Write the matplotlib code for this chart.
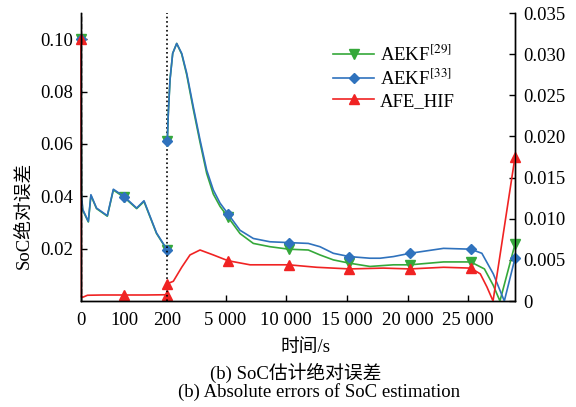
import numpy as np
import matplotlib
matplotlib.use("Agg")
import matplotlib.pyplot as plt

plt.rcParams['font.family'] = ['Liberation Serif', 'Noto Sans CJK SC']
plt.rcParams['mathtext.fontset'] = 'stix'
plt.rcParams['font.size'] = 13.5

# segment 1: 0-200 s, left axis
t1_blue = [0, 1, 4, 17, 23, 36, 61, 75, 100, 129, 146, 175, 200]
blue1 = [0.100, 0.041, 0.035, 0.0304, 0.0406, 0.0355, 0.0326, 0.0427, 0.0399, 0.0355, 0.0383, 0.026, 0.0195]
t1_green = [0, 1, 4, 17, 23, 36, 61, 75, 100, 129, 146, 175, 200]
green1 = [0.100, 0.0405, 0.0347, 0.0302, 0.0403, 0.0353, 0.0324, 0.0424, 0.0396, 0.0353, 0.0380, 0.0258, 0.0193]
t1_red = [0, 1, 5, 15, 50, 100, 150, 200]
red1 = [0.100, 0.0015, 0.0015, 0.0022, 0.0023, 0.0023, 0.0023, 0.0024]

# segment 2: 200 s to end, right axis
t2_blue = [200, 282, 423, 645, 975, 1387, 1799, 2343, 2895, 3447, 3990, 4545, 5200, 6190, 7290,
           8660, 10200, 11820, 12780, 13880, 15200, 16900, 17730, 18830, 20200, 22960, 25200,
           26120, 27060, 27970, 28850]
blue2 = [0.0194, 0.0228, 0.0269, 0.0301, 0.0313, 0.0301, 0.0277, 0.0236, 0.0196, 0.0159, 0.0135,
         0.0119, 0.0106, 0.0086, 0.0076, 0.0072, 0.0071, 0.0070, 0.0066, 0.0058, 0.0054, 0.0052,
         0.0052, 0.0054, 0.0058, 0.0064, 0.0063, 0.0058, 0.0033, 0.0, 0.0052]
t2_green = [200, 282, 423, 645, 975, 1387, 1799, 2343, 2895, 3447, 3990, 4545, 5200, 6190, 7290,
            8660, 10200, 11820, 12780, 13880, 15200, 16900, 18830, 20200, 22960, 25200, 26330,
            27060, 27610, 28850]
green2 = [0.0194, 0.0228, 0.0269, 0.0301, 0.0313, 0.0300, 0.0275, 0.0233, 0.0193, 0.0155, 0.0130,
          0.0115, 0.0102, 0.0082, 0.0070, 0.0066, 0.0063, 0.0062, 0.0056, 0.0050, 0.0046, 0.0042,
          0.0044, 0.0044, 0.00475, 0.00475, 0.0039, 0.0019, 0.0, 0.0069]
t2_red = [200, 695, 1387, 2070, 2895, 3990, 5200, 7020, 10200, 12510, 15200, 18000, 20200, 22960,
          25200, 25990, 26540, 27040, 28850]
red2 = [0.0021, 0.0024, 0.0041, 0.0056, 0.0062, 0.0056, 0.0049, 0.0044, 0.0044, 0.0041, 0.0039,
        0.0040, 0.0039, 0.0041, 0.0040, 0.0033, 0.0017, 0.0, 0.0175]

mark1 = [0, 100, 200]
mark2 = [200, 5200, 10200, 15200, 20200, 25200, 28850]

xticks = [0, 100, 200, 5000, 10000, 15000, 20000, 25000]
xticklabels = ['0', '100', '200', '5 000', '10 000', '15 000', '20 000', '25 000']
yticks_l = [0.02, 0.04, 0.06, 0.08, 0.10]
yticks_r = [0, 0.005, 0.010, 0.015, 0.020, 0.025, 0.030, 0.035]

green = '#35a83a'
blue = '#2f72bd'
red = '#f02323'

# broken time axis: 0-200 linear, after that compressed
k = 0.02812
def fwd(t):
    t = np.asarray(t, dtype=float)
    return np.where(t <= 200, t, 200 + (t - 200) * k)
def inv(u):
    u = np.asarray(u, dtype=float)
    return np.where(u <= 200, u, 200 + (u - 200) / k)

fig = plt.figure(figsize=(5.76, 4.07), dpi=100)
ax = fig.add_axes([0.1406, 0.2604, 0.7535, 0.7076])
ax2 = ax.twinx()
ax.set_xscale('function', functions=(fwd, inv))

def idx(ts, marks):
    return [i for i, t in enumerate(ts) if t in marks]

ax.plot(t1_green, green1, color=green, lw=1.2, marker='v', ms=6.5,
        markevery=idx(t1_green, mark1), clip_on=False)
ax.plot(t1_blue, blue1, color=blue, lw=1.2, marker='D', ms=5.5,
        markevery=idx(t1_blue, mark1), clip_on=False)
ax.plot(t1_red, red1, color=red, lw=1.2, marker='^', ms=6.5,
        markevery=idx(t1_red, mark1), clip_on=False)

lg, = ax2.plot(t2_green, green2, color=green, lw=1.2, marker='v', ms=6.5,
               markevery=idx(t2_green, mark2), clip_on=False)
lb, = ax2.plot(t2_blue, blue2, color=blue, lw=1.2, marker='D', ms=5.5,
               markevery=idx(t2_blue, mark2), clip_on=False)
lr, = ax2.plot(t2_red, red2, color=red, lw=1.2, marker='^', ms=6.5,
               markevery=idx(t2_red, mark2), clip_on=False)

ax.axvline(0, color='k', ls='--', lw=1.0)
ax.axvline(200, color='k', ls=':', lw=1.2)

ax.set_xlim(0, 28850)
ax.set_ylim(0, 0.11)
ax2.set_ylim(0, 0.035)
ax.set_xticks(xticks)
ax.set_xticklabels(xticklabels)
ax.set_yticks(yticks_l)
ax.set_yticklabels(['%.2f' % v for v in yticks_l])
ax2.set_yticks(yticks_r)
ax2.set_yticklabels(['0'] + ['%.3f' % v for v in yticks_r[1:]])
ax.xaxis.set_minor_locator(matplotlib.ticker.NullLocator())

ax.tick_params(axis='x', direction='in', length=4, width=1, pad=8)
ax.tick_params(axis='y', direction='in', length=4, width=1, pad=6)
ax2.tick_params(axis='y', direction='in', length=4, width=1, pad=6)
for a in (ax, ax2):
    a.spines['top'].set_visible(False)
    for s in a.spines.values():
        s.set_linewidth(1.0)

ax2.legend([lg, lb, lr], ['AEKF$^{[29]}$', 'AEKF$^{[33]}$', 'AFE_HIF'],
           loc='upper left', bbox_to_anchor=(0.581, 0.89), frameon=False,
           handlelength=2.2, handletextpad=0.3, labelspacing=0.2,
           borderpad=0, borderaxespad=0)

fig.text(0.042, 0.47, 'SoC绝对误差', rotation=90, ha='center', va='center')
fig.text(0.531, 0.146, '时间/s', ha='center', va='center')
fig.text(0.514, 0.0835, '(b) SoC估计绝对误差', ha='center', va='center')
fig.text(0.554, 0.037, '(b) Absolute errors of SoC estimation', ha='center', va='center')

fig.savefig('out.png', dpi=100)
